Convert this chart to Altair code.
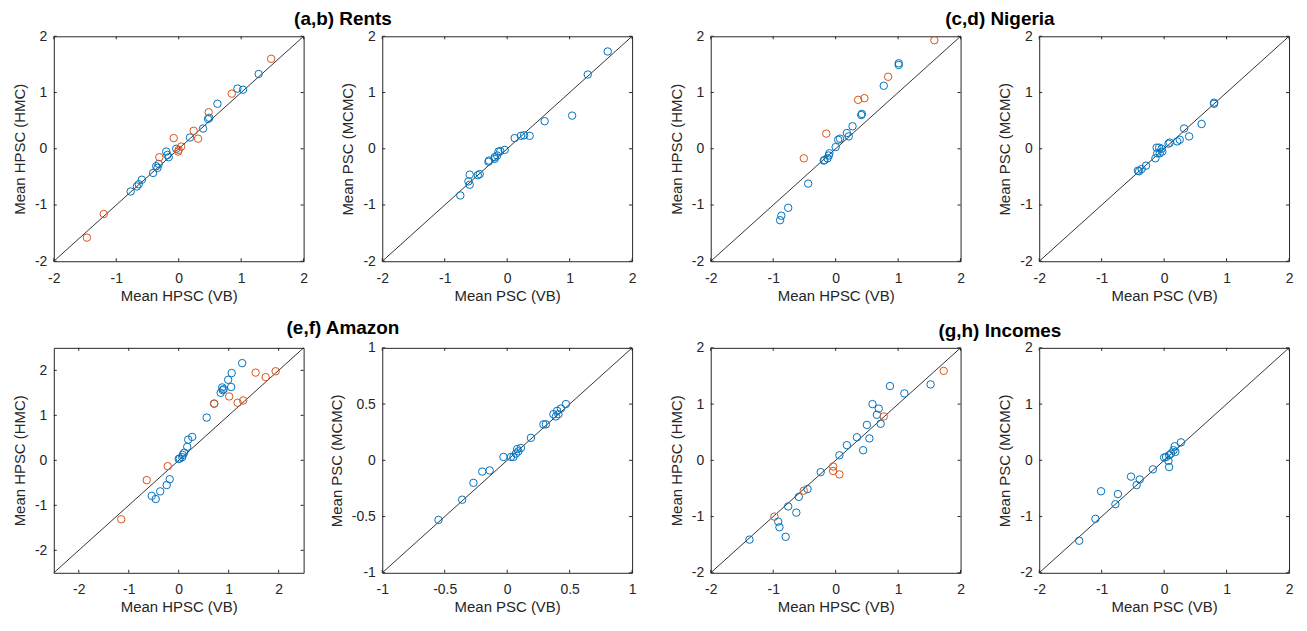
import altair as alt
import pandas as pd

BLUE = "#0072BD"
ORANGE = "#D95319"
AX = "#262626"
FONT = "Liberation Sans"
W, H = 251, 226
GAP_X, GAP_Y = 79, 87

# ---------- data ----------
# (a) Rents: HPSC VB vs HMC
a_bx = [1.28, 0.94, 1.03, 0.62, 0.47, 0.49, 0.39, 0.18, -0.04, -0.20, -0.18, -0.16, -0.32, -0.34, -0.36, -0.41, -0.59, -0.64, -0.67, -0.77]
a_by = [1.33, 1.07, 1.05, 0.80, 0.53, 0.55, 0.36, 0.20, 0.00, -0.05, -0.11, -0.15, -0.27, -0.34, -0.31, -0.43, -0.55, -0.63, -0.67, -0.76]
a_ox = [1.48, 0.85, 0.48, 0.24, 0.31, -0.08, 0.04, 0.00, -0.01, -0.31, -1.20, -1.47]
a_oy = [1.60, 0.98, 0.65, 0.32, 0.18, 0.19, 0.04, -0.02, -0.05, -0.15, -1.16, -1.58]
# (b) Rents: PSC VB vs MCMC
b_x = [1.61, 1.29, 1.04, 0.60, 0.36, 0.27, 0.22, 0.12, -0.04, -0.11, -0.14, -0.16, -0.20, -0.20, -0.29, -0.30, -0.44, -0.47, -0.60, -0.62, -0.60, -0.75]
b_y = [1.73, 1.32, 0.59, 0.49, 0.23, 0.24, 0.23, 0.19, -0.02, -0.04, -0.05, -0.12, -0.15, -0.18, -0.21, -0.23, -0.45, -0.47, -0.46, -0.58, -0.64, -0.83]
# (c) Nigeria
c_bx = [1.01, 1.01, 0.77, 0.42, 0.41, 0.27, 0.21, 0.18, 0.07, 0.04, 0.00, -0.10, -0.11, -0.13, -0.18, -0.19, -0.44, -0.76, -0.87, -0.89]
c_by = [1.52, 1.49, 1.12, 0.62, 0.60, 0.40, 0.22, 0.28, 0.18, 0.16, 0.03, -0.08, -0.12, -0.17, -0.20, -0.21, -0.62, -1.05, -1.19, -1.27]
c_ox = [1.58, 0.84, 0.46, 0.36, -0.15, -0.51]
c_oy = [1.93, 1.28, 0.90, 0.87, 0.27, -0.17]
# (d) Nigeria
d_x = [0.80, 0.80, 0.60, 0.40, 0.32, 0.25, 0.21, 0.09, 0.07, -0.04, -0.08, -0.12, -0.03, -0.07, -0.11, -0.14, -0.29, -0.36, -0.40, -0.42]
d_y = [0.82, 0.80, 0.44, 0.22, 0.36, 0.16, 0.13, 0.11, 0.09, 0.00, 0.02, 0.02, -0.05, -0.08, -0.08, -0.17, -0.30, -0.36, -0.40, -0.39]
# (e) Amazon
e_bx = [1.27, 1.06, 0.99, 1.05, 0.90, 0.87, 0.88, 0.84, 0.71, 0.56, 0.27, 0.19, 0.17, 0.11, 0.08, 0.07, 0.02, 0.00, -0.18, -0.24, -0.37, -0.46, -0.54]
e_by = [2.16, 1.94, 1.79, 1.63, 1.58, 1.62, 1.56, 1.50, 1.26, 0.95, 0.52, 0.46, 0.30, 0.17, 0.12, 0.07, 0.04, 0.03, -0.42, -0.55, -0.69, -0.86, -0.79]
e_ox = [1.94, 1.74, 1.54, 1.29, 1.18, 1.01, 0.71, -0.22, -0.64, -1.15]
e_oy = [1.98, 1.85, 1.95, 1.33, 1.28, 1.42, 1.26, -0.13, -0.44, -1.31]
# (f) Amazon
f_x = [0.47, 0.43, 0.40, 0.37, 0.41, 0.39, 0.31, 0.29, 0.19, 0.11, 0.08, 0.09, 0.07, 0.05, 0.03, -0.03, -0.14, -0.20, -0.27, -0.36, -0.55]
f_y = [0.50, 0.46, 0.44, 0.41, 0.41, 0.39, 0.32, 0.32, 0.20, 0.11, 0.10, 0.08, 0.06, 0.03, 0.03, 0.03, -0.09, -0.10, -0.20, -0.35, -0.53]
# (g) Incomes
g_bx = [1.52, 1.10, 0.87, 0.59, 0.69, 0.66, 0.72, 0.50, 0.54, 0.34, 0.44, 0.18, 0.06, -0.24, -0.45, -0.59, -0.76, -0.63, -0.92, -0.90, -0.80, -1.38]
g_by = [1.35, 1.19, 1.32, 1.00, 0.92, 0.81, 0.65, 0.63, 0.39, 0.41, 0.18, 0.27, 0.09, -0.21, -0.51, -0.65, -0.82, -0.93, -1.09, -1.19, -1.36, -1.41]
g_ox = [1.73, 0.77, -0.04, -0.04, 0.06, -0.51, -0.98]
g_oy = [1.59, 0.78, -0.11, -0.19, -0.25, -0.54, -1.00]
# (h) Incomes
h_x = [0.27, 0.17, 0.15, 0.18, 0.11, 0.08, 0.03, 0.00, 0.07, 0.08, -0.18, -0.39, -0.53, -0.44, -0.74, -0.78, -1.01, -1.10, -1.36]
h_y = [0.32, 0.25, 0.18, 0.15, 0.12, 0.09, 0.06, 0.05, -0.01, -0.12, -0.16, -0.34, -0.29, -0.44, -0.60, -0.78, -0.55, -1.04, -1.43]

TICKS2 = [-2, -1, 0, 1, 2]
TICKS1 = [-1, -0.5, 0, 0.5, 1]
DOM2 = [-2, 2]
DOM25 = [-2.5, 2.5]
DOM1 = [-1, 1]


def axis(title, ticks, pad, tpad):
    return alt.Axis(values=ticks, title=title, labelExpr="'' + datum.value",
                    ticks=False, tickSize=0, domain=False, grid=False,
                    labelPadding=pad, titlePadding=tpad, labelFont=FONT, titleFont=FONT,
                    labelFontSize=14, titleFontSize=15, labelColor=AX, titleColor=AX,
                    titleFontWeight="normal", labelFlush=False, labelOverlap=False)


def panel(bx, by, ox, oy, dom, ticks, xtitle, ytitle, title=None, toff=0):
    sc = alt.Scale(domain=dom, nice=False, zero=False)
    X = alt.X("x:Q", scale=sc, axis=axis(xtitle, ticks, 10, 3))
    Y = alt.Y("y:Q", scale=sc, axis=axis(ytitle, ticks, 7, 7))
    tk = pd.DataFrame({"x": ticks, "y": ticks})
    diag = pd.DataFrame({"x": dom, "y": dom})
    pt = dict(shape="circle", filled=False, size=56, strokeWidth=1, opacity=1)
    layers = [
        alt.Chart(diag).mark_line(color="black", strokeWidth=0.8).encode(x=X, y=Y),
        alt.Chart(pd.DataFrame({"x": bx, "y": by})).mark_point(color=BLUE, **pt).encode(x=X, y=Y),
    ]
    if ox:
        layers.append(alt.Chart(pd.DataFrame({"x": ox, "y": oy})).mark_point(
            color=ORANGE, **pt).encode(x=X, y=Y))
    rule = dict(color=AX, strokeWidth=1)
    layers += [
        alt.Chart(tk).mark_rule(**rule).encode(x=X, y=alt.value(H), y2=alt.value(H - 3)),
        alt.Chart(tk).mark_rule(**rule).encode(x=X, y=alt.value(0), y2=alt.value(3)),
        alt.Chart(tk).mark_rule(**rule).encode(y=Y, x=alt.value(0), x2=alt.value(3)),
        alt.Chart(tk).mark_rule(**rule).encode(y=Y, x=alt.value(W), x2=alt.value(W - 3)),
    ]
    ch = alt.layer(*layers).properties(width=W, height=H)
    if title:
        ch = ch.properties(title=alt.TitleParams(
            text=title, font=FONT, fontSize=19, fontWeight="bold", color="black",
            anchor="middle", frame="group", offset=toff, dx=(W + GAP_X) / 2))
    return ch


pa = panel(a_bx, a_by, a_ox, a_oy, DOM2, TICKS2, "Mean HPSC (VB)", "Mean HPSC (HMC)", "(a,b) Rents")
pb = panel(b_x, b_y, None, None, DOM2, TICKS2, "Mean PSC (VB)", "Mean PSC (MCMC)")
pc = panel(c_bx, c_by, c_ox, c_oy, DOM2, TICKS2, "Mean HPSC (VB)", "Mean HPSC (HMC)", "(c,d) Nigeria")
pd_ = panel(d_x, d_y, None, None, DOM2, TICKS2, "Mean PSC (VB)", "Mean PSC (MCMC)")
pe = panel(e_bx, e_by, e_ox, e_oy, DOM25, TICKS2, "Mean HPSC (VB)", "Mean HPSC (HMC)", "(e,f) Amazon", toff=8)
pf = panel(f_x, f_y, None, None, DOM1, TICKS1, "Mean PSC (VB)", "Mean PSC (MCMC)")
pg = panel(g_bx, g_by, g_ox, g_oy, DOM2, TICKS2, "Mean HPSC (VB)", "Mean HPSC (HMC)", "(g,h) Incomes")
ph = panel(h_x, h_y, None, None, DOM2, TICKS2, "Mean PSC (VB)", "Mean PSC (MCMC)")

chart = alt.concat(pa, pb, pc, pd_, pe, pf, pg, ph, columns=4, bounds="flush",
                   spacing={"row": GAP_Y, "column": GAP_X}).configure_view(
    stroke=AX, strokeWidth=1).properties(padding={"left": 4, "top": 0, "right": 5, "bottom": 5})

chart.save("out.html", embed_options={"renderer": "svg", "actions": False})
